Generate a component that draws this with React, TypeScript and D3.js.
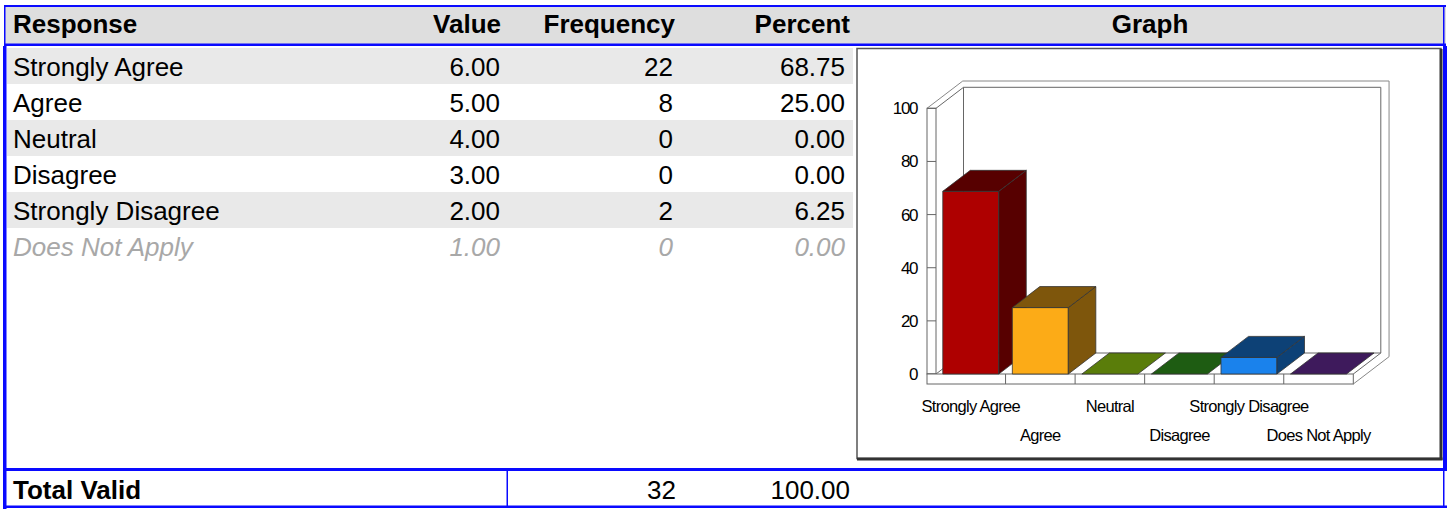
import React from 'react';
import * as d3 from 'd3';

// table + chart data
const responses = ['Strongly Agree', 'Agree', 'Neutral', 'Disagree', 'Strongly Disagree', 'Does Not Apply'];
const values = [6, 5, 4, 3, 2, 1];
const frequencies = [22, 8, 0, 0, 2, 0];
const percents = [68.75, 25, 0, 0, 6.25, 0];
const barColors = ['#ae0000', '#fcab17', '#b4fa14', '#3cb824', '#1a82ec', '#7c34b8'];
const yTicks = [0, 20, 40, 60, 80, 100];
const columns = ['Response', 'Value', 'Frequency', 'Percent', 'Graph'];

const FONT = '"Liberation Sans", Arial, sans-serif';
const BLUE = '#0a0aff';
const LINE = '#666';

const fmt = d3.format('.2f');

// 3D depth offset of bars / inner walls
const DX = 27.5;
const DY = -21;
const OUT = 1.3;

const shade = (c: string) => {
    const r = d3.rgb(c);
    return d3.rgb(r.r * 0.5, r.g * 0.5, r.b * 0.5).formatHex();
};

const pts = (arr: number[][]) => arr.map(p => p.join(',')).join(' ');

const Chart3D = () => {
    const y = d3.scaleLinear().domain([0, 100]).range([374, 108.3]);
    const x = d3.scaleBand<string>()
        .domain(responses)
        .range([936, 1353.3])
        .paddingInner(0.195)
        .paddingOuter(0.0975);

    const left = 936;
    const right = 1353.3;
    const wallX = 927;
    const floorY = y(0);
    const topY = y(100);
    const floorBottom = floorY + 10;
    const step = x.step();

    return (
        <g>
            {/* chart box */}
            <rect x={857} y={48.5} width={584} height={410} fill="#fff" stroke="#555" strokeWidth={1.5} />
            <line x1={1441} y1={49} x2={1441} y2={460} stroke="#333" strokeWidth={3} />
            <line x1={857} y1={459} x2={1442.5} y2={459} stroke="#333" strokeWidth={3} />

            {/* outer wall outline */}
            <polyline
                points={pts([
                    [wallX, topY],
                    [wallX + OUT * DX, topY + OUT * DY],
                    [right + OUT * DX, topY + OUT * DY],
                    [right + OUT * DX, floorBottom + OUT * DY],
                    [right, floorBottom]
                ])}
                fill="none" stroke="#888" strokeWidth={1}
            />
            {/* inner wall outline */}
            <polyline
                points={pts([
                    [left, topY],
                    [left + DX, topY + DY],
                    [right + DX, topY + DY],
                    [right + DX, floorY + DY],
                    [right, floorY]
                ])}
                fill="none" stroke={LINE} strokeWidth={1}
            />
            <polyline
                points={pts([
                    [left + DX, topY + DY],
                    [left + DX, floorY + DY],
                    [right + DX, floorY + DY]
                ])}
                fill="none" stroke={LINE} strokeWidth={1}
            />
            <line x1={left} y1={floorY} x2={left + DX} y2={floorY + DY} stroke={LINE} />

            {/* left wall front face */}
            <rect x={wallX} y={topY} width={left - wallX} height={floorY - topY} fill="#fff" stroke={LINE} />
            {yTicks.map(t => (
                <g key={t}>
                    <line x1={wallX} x2={left} y1={y(t)} y2={y(t)} stroke={LINE} />
                    <text x={917} y={y(t)} dy="0.35em" textAnchor="end" fontFamily={FONT}
                          fontSize={17} letterSpacing={-1.4} fill="#000">{t}</text>
                </g>
            ))}

            {/* floor front face */}
            <rect x={wallX} y={floorY} width={right - wallX} height={floorBottom - floorY} fill="#fff" stroke={LINE} />
            {responses.slice(1).map((c, i) => (
                <line key={c} x1={left + (i + 1) * step} x2={left + (i + 1) * step}
                      y1={floorY} y2={floorBottom} stroke={LINE} />
            ))}

            {/* bars */}
            {responses.map((c, i) => {
                const x0 = x(c)!;
                const x1 = x0 + x.bandwidth();
                const yt = y(percents[i]);
                const yb = floorY;
                const dark = shade(barColors[i]);
                return (
                    <g key={c} stroke="#333" strokeWidth={0.8} strokeLinejoin="round">
                        {yb - yt > 0 && (
                            <>
                                <rect x={x0} y={yt} width={x1 - x0} height={yb - yt} fill={barColors[i]} />
                                <polygon points={pts([[x1, yb], [x1, yt], [x1 + DX, yt + DY], [x1 + DX, yb + DY]])} fill={dark} />
                            </>
                        )}
                        <polygon points={pts([[x0, yt], [x1, yt], [x1 + DX, yt + DY], [x0 + DX, yt + DY]])} fill={dark} />
                    </g>
                );
            })}

            {/* category labels, staggered */}
            {responses.map((c, i) => (
                <text key={c} x={x(c)! + x.bandwidth() / 2} y={i % 2 === 0 ? 406 : 435} dy="0.35em"
                      textAnchor="middle" fontFamily={FONT} fontSize={16.5} letterSpacing={-0.7} fill="#000">
                    {c}
                </text>
            ))}
        </g>
    );
};

const App = () => {
    const rowH = 36;
    const rowTop = 48;
    const total = d3.sum(frequencies);
    const totalPct = d3.sum(percents);
    const headerX = [13, 501, 675, 850, 1150];
    const headerAnchor = ['start', 'end', 'end', 'end', 'middle'];

    return (
        <div style={{ position: 'absolute', left: 0, top: 0 }}>
            <svg width={1448} height={510} style={{ display: 'block', background: '#fff' }}>
                {/* header */}
                <rect x={4} y={6} width={1442} height={38} fill="#dedede" />
                <rect x={4} y={5} width={1442} height={2} fill={BLUE} />
                <rect x={4} y={43.5} width={1442} height={2.5} fill={BLUE} />
                <rect x={4} y={5} width={1.5} height={41} fill={BLUE} />
                <rect x={1443} y={5} width={1.5} height={41} fill={BLUE} />
                {columns.map((c, i) => (
                    <text key={c} x={headerX[i]} y={32.5} textAnchor={headerAnchor[i] as any}
                          fontFamily={FONT} fontSize={26} fontWeight="bold" fill="#000">{c}</text>
                ))}

                {/* body rows */}
                {responses.map((r, i) => {
                    const top = rowTop + i * rowH;
                    const na = r === 'Does Not Apply';
                    const style = {
                        fontFamily: FONT,
                        fontSize: 26,
                        fill: na ? '#a8a8a8' : '#000',
                        fontStyle: na ? 'italic' : 'normal'
                    } as any;
                    return (
                        <g key={r}>
                            {i % 2 === 0 && <rect x={7} y={top} width={846} height={rowH} fill="#e9e9e9" />}
                            <text x={13} y={top + 27.5} style={style}>{r}</text>
                            <text x={500} y={top + 27.5} textAnchor="end" style={style}>{fmt(values[i])}</text>
                            <text x={673} y={top + 27.5} textAnchor="end" style={style}>{frequencies[i]}</text>
                            <text x={845} y={top + 27.5} textAnchor="end" style={style}>{fmt(percents[i])}</text>
                        </g>
                    );
                })}

                <Chart3D />

                {/* body side borders */}
                <rect x={3} y={46} width={3.5} height={463} fill={BLUE} />
                <rect x={1443} y={46} width={4} height={424} fill={BLUE} />

                {/* total row */}
                <rect x={3} y={468} width={1444} height={3} fill={BLUE} />
                <rect x={3} y={505.5} width={1444} height={2.5} fill={BLUE} />
                <rect x={506.5} y={470} width={1.5} height={37} fill={BLUE} />
                <rect x={1443} y={470} width={1.5} height={37} fill={BLUE} />
                <text x={13} y={499} fontFamily={FONT} fontSize={26} fontWeight="bold" fill="#000">Total Valid</text>
                <text x={676} y={499} textAnchor="end" fontFamily={FONT} fontSize={26} fill="#000">{total}</text>
                <text x={850} y={499} textAnchor="end" fontFamily={FONT} fontSize={26} fill="#000">{fmt(totalPct)}</text>
            </svg>
        </div>
    );
};

export default App;
